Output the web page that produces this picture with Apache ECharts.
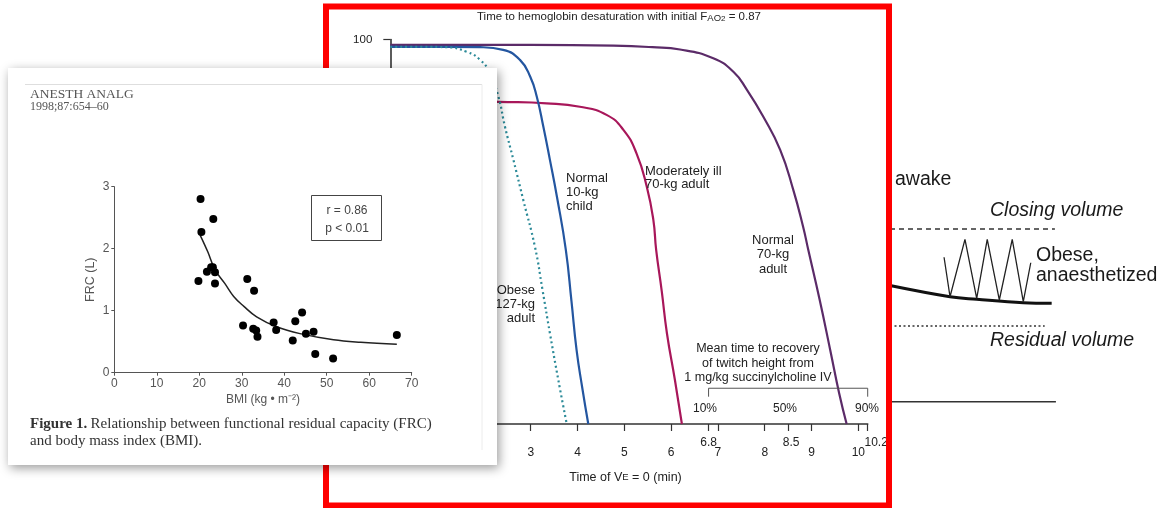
<!DOCTYPE html>
<html>
<head>
<meta charset="utf-8">
<script src="https://cdn.jsdelivr.net/npm/echarts@6/dist/echarts.min.js"></script>
<style>
  html, body { margin: 0; padding: 0; background: #fff; }
  #chart { width: 1171px; height: 508px; }
</style>
</head>
<body>
<div id="chart"></div>
<script>
// scatter: FRC vs BMI
const bmiValues = [20.3, 20.5, 23.3, 19.8, 21.8, 22.8, 23.2, 23.7, 23.7, 31.3, 32.9, 30.3, 32.7, 33.4, 33.7, 37.5, 38.1, 42.0, 42.6, 44.2, 45.1, 46.9, 47.3, 51.5, 66.5]
const frcValues = [2.80, 2.27, 2.48, 1.48, 1.63, 1.70, 1.70, 1.62, 1.44, 1.51, 1.32, 0.76, 0.71, 0.68, 0.58, 0.81, 0.69, 0.52, 0.83, 0.97, 0.63, 0.66, 0.30, 0.23, 0.61]
const fitBmi = [20.2, 22, 23.7, 26, 28.1, 30.5, 33.5, 38.2, 43.7, 51.6, 58, 66.5]
const fitFrc = [2.22, 1.95, 1.66, 1.44, 1.23, 1.07, 0.90, 0.74, 0.63, 0.53, 0.49, 0.46]

// desaturation curves (time in min, SaO2 %)
const adult70Time = [0, 3, 4.77, 5.6, 6.19, 6.90, 7.33, 7.62, 7.97, 8.33, 8.61, 8.82, 8.93, 9.17, 9.40, 9.59, 9.75]
const adult70Sat = [98.6, 98.6, 98.4, 98.0, 97.4, 95.1, 91.6, 86.9, 79.9, 71.3, 60.9, 51.3, 45.3, 32.5, 19.2, 8.0, 0]
const childTime = [0, 1.2, 1.92, 2.41, 2.77, 2.99, 3.13, 3.27, 3.41, 3.56, 3.75, 3.87, 3.98, 4.10, 4.23]
const childSat = [98.1, 98.1, 98.0, 97.3, 94.7, 90.3, 85.1, 77.3, 68.7, 59.1, 45.3, 32.0, 19.2, 9.5, 0]
const obeseTime = [0, 0.7, 1.21, 1.63, 1.92, 2.13, 2.31, 2.45, 2.63, 2.84, 3.09, 3.25, 3.41, 3.63, 3.77]
const obeseSat = [98.1, 98.1, 98.0, 96.8, 94.7, 91.2, 85.1, 77.3, 68.7, 58.3, 46.1, 35.0, 23.6, 8.8, 0]
const illTime = [0, 1.2, 2.31, 3.34, 4.05, 4.62, 4.98, 5.26, 5.48, 5.62, 5.68, 5.80, 5.91, 6.08, 6.23]
const illSat = [84.5, 84.2, 83.8, 83.4, 82.5, 80.4, 76.5, 70.4, 61.7, 53.1, 45.3, 34.5, 23.6, 11.5, 0]
const timeTicks = [1, 2, 3, 4, 5, 6, 6.8, 7, 8, 8.5, 9, 10, 10.2]
const timeLabels = [3, 4, 5, 6, 7, 8, 9, 10]
const recoveryLabels = [6.8, 8.5, 10.2]
const recoveryPct = ['10%', '50%', '90%']

// schematic: lung volumes (arbitrary units)
const closingX = [0, 9.7]
const closingY = [9.53, 9.53]
const residualX = [0, 9.1]
const residualY = [4.42, 4.42]
const baseX = [0, 9.76]
const baseY = [0.44, 0.44]
const frcLineX = [0, 3.53, 5.1, 7.84, 9.51]
const frcLineY = [6.55, 5.96, 5.83, 5.65, 5.62]
const zigzagX = [3.18, 3.53, 4.41, 5.1, 5.72, 6.43, 7.19, 7.84, 8.28]
const zigzagY = [8.04, 5.96, 8.98, 5.88, 8.98, 5.79, 8.98, 5.70, 7.75]

const zip = (xs, ys) => xs.map((x, i) => [x, ys[i]])

const SANS = '"Liberation Sans", Arial, sans-serif'
const SERIF = '"Liberation Serif", "Times New Roman", serif'

const chart = echarts.init(document.getElementById('chart'))

// 中间曲线的公共样式
const curve = (name, xs, ys, color, type) => ({
  name,
  type: 'line',
  xAxisIndex: 1,
  yAxisIndex: 1,
  data: zip(xs, ys),
  smooth: 0.5,
  symbol: 'none',
  z: 2,
  lineStyle: { color, width: 2.2, type: type || 'solid' }
})

const schemLine = (xs, ys, style, smooth) => ({
  type: 'line',
  xAxisIndex: 3,
  yAxisIndex: 2,
  data: zip(xs, ys),
  symbol: 'none',
  smooth: smooth || false,
  z: 2,
  lineStyle: style
})

chart.setOption({
  animation: false,
  grid: [
    { left: 114.3, top: 186.7, width: 297.4, height: 186 },
    { left: 383.3, top: 39.5, width: 484.4, height: 384.5 },
    { left: 890, top: 220, width: 170, height: 190 }
  ],
  xAxis: [
    {
      gridIndex: 0, type: 'value', min: 0, max: 70, interval: 10, z: 20,
      axisLine: { lineStyle: { color: '#555', width: 1 } },
      axisTick: { length: 3, lineStyle: { color: '#555' } },
      axisLabel: { color: '#555', fontSize: 12, fontFamily: SANS, margin: 5 },
      splitLine: { show: false },
      name: 'BMI (kg • m⁻²)', nameLocation: 'middle', nameGap: 21,
      nameTextStyle: { color: '#555', fontSize: 12, fontFamily: SANS }
    },
    {
      gridIndex: 1, type: 'value', min: -0.15, max: 10.2, position: 'bottom',
      axisLine: { lineStyle: { color: '#333', width: 1.6 } },
      axisTick: { customValues: timeTicks, length: 7, lineStyle: { color: '#333', width: 1.2 } },
      axisLabel: { customValues: timeLabels, color: '#222', fontSize: 12, fontFamily: SANS, margin: 23 },
      splitLine: { show: false },
      name: '{n|Time of V}{s|E}{n| = 0 (min)}', nameLocation: 'middle', nameGap: 47,
      nameTextStyle: {
        rich: {
          n: { fontSize: 12.5, color: '#222', fontFamily: SANS },
          s: { fontSize: 9.5, color: '#222', fontFamily: SANS }
        }
      }
    },
    {
      gridIndex: 1, type: 'value', min: -0.15, max: 10.2, position: 'bottom', offset: 0,
      axisLine: { show: false },
      axisTick: { show: false },
      axisLabel: {
        customValues: recoveryLabels, margin: 13,
        formatter: (v) => v === 10.2 ? '{r|10.2}' : v === 8.5 ? '{m|8.5}' : '{l|' + v + '}',
        rich: {
          l: { fontSize: 12, color: '#222', fontFamily: SANS },
          m: { fontSize: 12, color: '#222', fontFamily: SANS, padding: [0, 0, 0, 6] },
          r: { fontSize: 12, color: '#222', fontFamily: SANS, padding: [0, 0, 0, 17] }
        }
      },
      splitLine: { show: false }
    },
    {
      gridIndex: 2, type: 'value', min: 0, max: 10, show: false
    }
  ],
  yAxis: [
    {
      gridIndex: 0, type: 'value', min: 0, max: 3, interval: 1, z: 20,
      axisLine: { show: true, lineStyle: { color: '#555', width: 1 } },
      axisTick: { show: true, length: 3, lineStyle: { color: '#555' } },
      axisLabel: { color: '#555', fontSize: 12, fontFamily: SANS, margin: 5 },
      splitLine: { show: false },
      name: 'FRC (L)', nameLocation: 'middle', nameGap: 17, nameRotate: 90,
      nameTextStyle: { color: '#555', fontSize: 12.5, fontFamily: SANS }
    },
    {
      gridIndex: 1, type: 'value', min: 0, max: 100, interval: 100,
      axisLine: { show: true, lineStyle: { color: '#333', width: 1.6 } },
      axisTick: { show: true, length: 7, lineStyle: { color: '#333', width: 1.2 } },
      axisLabel: {
        color: '#222', fontSize: 11.5, fontFamily: SANS, margin: 11,
        formatter: (v) => (v === 100 ? '100' : '')
      },
      splitLine: { show: false }
    },
    {
      gridIndex: 2, type: 'value', min: 0, max: 10, show: false
    }
  ],
  series: [
    {
      name: 'FRC',
      type: 'scatter',
      xAxisIndex: 0,
      yAxisIndex: 0,
      data: zip(bmiValues, frcValues),
      symbolSize: 8,
      z: 22,
      itemStyle: { color: '#000', opacity: 1 }
    },
    {
      name: 'fit',
      type: 'line',
      xAxisIndex: 0,
      yAxisIndex: 0,
      data: zip(fitBmi, fitFrc),
      smooth: 0.4,
      symbol: 'none',
      z: 21,
      lineStyle: { color: '#222', width: 1.5 }
    },
    curve('Normal 70-kg adult', adult70Time, adult70Sat, '#5b2b68'),
    curve('Moderately ill 70-kg adult', illTime, illSat, '#a8175a'),
    curve('Normal 10-kg child', childTime, childSat, '#2456a0'),
    curve('Obese 127-kg adult', obeseTime, obeseSat, '#2b8a98', [2, 3]),
    {
      name: 'recovery',
      type: 'line',
      xAxisIndex: 1,
      yAxisIndex: 1,
      data: [[6.8, 7.1], [6.8, 9.3], [10.2, 9.3], [10.2, 7.1]],
      symbol: 'none',
      z: 2,
      lineStyle: { color: '#555', width: 1 }
    },
    schemLine(closingX, closingY, { color: '#333', width: 1.5, type: [5, 4] }),
    schemLine(residualX, residualY, { color: '#333', width: 1.5, type: [2, 2.5] }),
    schemLine(baseX, baseY, { color: '#333', width: 1.5 }),
    schemLine(frcLineX, frcLineY, { color: '#111', width: 3 }, 0.4),
    schemLine(zigzagX, zigzagY, { color: '#222', width: 1.3 })
  ],
  graphic: {
    elements: [
      // 红色边框
      {
        type: 'rect', z: 5, silent: true,
        shape: { x: 326, y: 6.5, width: 563, height: 499 },
        style: { fill: 'none', stroke: '#ff0000', lineWidth: 6 }
      },
      {
        type: 'text', z: 3,
        style: {
          x: 619, y: 9, align: 'center',
          text: '{a|Time to hemoglobin desaturation with initial F}{b|AO}{c|2}{a| = 0.87}',
          rich: {
            a: { fontSize: 11.5, fill: '#222', fontFamily: SANS, lineHeight: 14, verticalAlign: 'bottom' },
            b: { fontSize: 9.5, fill: '#222', fontFamily: SANS, lineHeight: 14, verticalAlign: 'bottom' },
            c: { fontSize: 8, fill: '#222', fontFamily: SANS, lineHeight: 11, verticalAlign: 'bottom' }
          }
        }
      },
      {
        type: 'text', z: 3,
        style: { x: 566, y: 171, text: 'Normal\n10-kg\nchild', fill: '#222', font: '13px ' + SANS, lineHeight: 14.3 }
      },
      {
        type: 'text', z: 3,
        style: { x: 645, y: 164.5, text: 'Moderately ill\n70-kg adult', fill: '#222', font: '13px ' + SANS, lineHeight: 13.5 }
      },
      {
        type: 'text', z: 3,
        style: { x: 773, y: 233, align: 'center', text: 'Normal\n70-kg\nadult', fill: '#222', font: '13px ' + SANS, lineHeight: 14.5 }
      },
      {
        type: 'text', z: 3,
        style: { x: 535, y: 283, align: 'right', text: 'Obese\n127-kg\nadult', fill: '#222', font: '13px ' + SANS, lineHeight: 14.2 }
      },
      {
        type: 'text', z: 3,
        style: {
          x: 758, y: 341, align: 'center', fill: '#222', font: '12.5px ' + SANS, lineHeight: 14.7,
          text: 'Mean time to recovery\nof twitch height from\n1 mg/kg succinylcholine IV'
        }
      },
      {
        type: 'text', z: 3,
        style: { x: 705, y: 403, align: 'center', text: recoveryPct[0], fill: '#222', font: '12px ' + SANS }
      },
      {
        type: 'text', z: 3,
        style: { x: 785, y: 403, align: 'center', text: recoveryPct[1], fill: '#222', font: '12px ' + SANS }
      },
      {
        type: 'text', z: 3,
        style: { x: 867, y: 403, align: 'center', text: recoveryPct[2], fill: '#222', font: '12px ' + SANS }
      },
      // 右侧示意图文字
      {
        type: 'text', z: 3,
        style: { x: 895, y: 170, text: 'awake', fill: '#1a1a1a', font: '19.5px ' + SANS }
      },
      {
        type: 'text', z: 3,
        style: { x: 990, y: 201, text: 'Closing volume', fill: '#1a1a1a', font: 'italic 19.5px ' + SANS }
      },
      {
        type: 'text', z: 3,
        style: { x: 1036, y: 246, text: 'Obese,\nanaesthetized', fill: '#1a1a1a', font: '19.5px ' + SANS, lineHeight: 20 }
      },
      {
        type: 'text', z: 3,
        style: { x: 990, y: 331, text: 'Residual volume', fill: '#1a1a1a', font: 'italic 19.5px ' + SANS }
      },
      // 左侧论文卡片
      {
        type: 'rect', z: 10, silent: true,
        shape: { x: 8, y: 68, width: 489, height: 397 },
        style: { fill: '#fff', shadowBlur: 10, shadowColor: 'rgba(0,0,0,0.4)', shadowOffsetX: 2, shadowOffsetY: 3 }
      },
      {
        type: 'line', z: 11, silent: true,
        shape: { x1: 25, y1: 84.5, x2: 482, y2: 84.5 },
        style: { stroke: '#dedede', lineWidth: 1 }
      },
      {
        type: 'line', z: 11, silent: true,
        shape: { x1: 482, y1: 84.5, x2: 482, y2: 450 },
        style: { stroke: '#ececec', lineWidth: 1 }
      },
      {
        type: 'text', z: 21,
        style: { x: 30, y: 87.5, text: 'ANESTH ANALG', fill: '#555', font: '13.5px ' + SERIF }
      },
      {
        type: 'text', z: 21,
        style: { x: 30, y: 101, text: '1998;87:654–60', fill: '#555', font: '12px ' + SERIF }
      },
      {
        type: 'rect', z: 21, silent: true,
        shape: { x: 311.5, y: 195.5, width: 70, height: 45 },
        style: { fill: 'none', stroke: '#444', lineWidth: 1 }
      },
      {
        type: 'text', z: 21,
        style: { x: 347, y: 202, align: 'center', text: 'r = 0.86\np < 0.01', fill: '#444', font: '12px ' + SANS, lineHeight: 18 }
      },
      {
        type: 'text', z: 21,
        style: {
          x: 30, y: 416, fill: '#333', lineHeight: 17,
          text: '{b|Figure 1.} {n|Relationship between functional residual capacity (FRC)}\n{n|and body mass index (BMI).}',
          rich: {
            b: { font: 'bold 15px ' + SERIF, fill: '#333', lineHeight: 17 },
            n: { font: '15px ' + SERIF, fill: '#333', lineHeight: 17 }
          }
        }
      }
    ]
  }
})

window.addEventListener('resize', () => chart.resize())
</script>
</body>
</html>
